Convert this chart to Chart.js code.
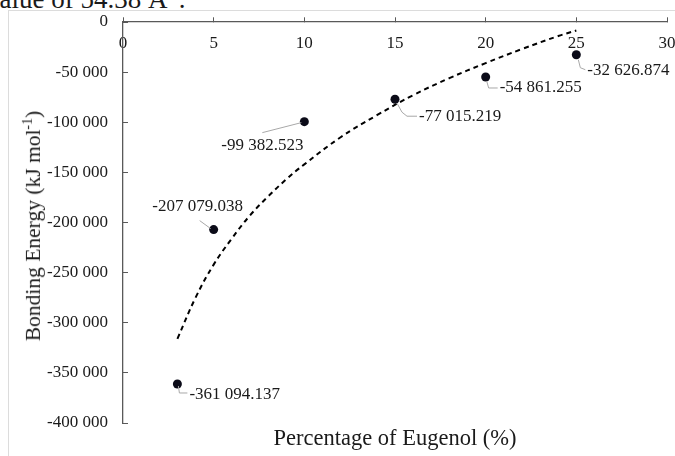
<!DOCTYPE html>
<html><head><meta charset="utf-8">
<script src="https://cdn.jsdelivr.net/npm/chart.js@4.4.1/dist/chart.umd.min.js"></script>
<style>
html,body{margin:0;padding:0;background:#fff;}
#wrap{position:relative;width:675px;height:456px;overflow:hidden;font-family:"Liberation Serif","Times New Roman",serif;color:#1a1a1a;}
#frame{position:absolute;left:8px;top:10px;width:700px;height:500px;border-left:1px solid #dcdcdc;border-top:1px solid #dcdcdc;}
#toptext{position:absolute;left:-14px;top:-22px;font-size:27px;white-space:nowrap;}
#ytitle{position:absolute;left:33px;top:226px;transform:translate(-50%,-50%) rotate(-90deg);font-size:21.5px;white-space:nowrap;}
#ytitle sup{font-size:14px;}
#xtitle{position:absolute;left:395px;top:438px;transform:translate(-50%,-50%);font-size:22.5px;white-space:nowrap;}
canvas{position:absolute;left:0;top:0;}
</style></head>
<body><div id="wrap">
<div id="frame"></div>
<div id="toptext">value of 54.38 Å<sup>2</sup>.</div>
<canvas id="c" width="675" height="456"></canvas>
<div id="ytitle">Bonding Energy (kJ mol<sup>-1</sup>)</div>
<div id="xtitle">Percentage of Eugenol (%)</div>
</div>
<script>
// ---- data ----
const eugenolPercent = [3, 5, 10, 15, 20, 25];
const bondingEnergy = [-361094.137, -207079.038, -99382.523, -77015.219, -54861.255, -32626.874];
const pointLabels = ["-361 094.137", "-207 079.038", "-99 382.523", "-77 015.219", "-54 861.255", "-32 626.874"];
// dashed trend curve
const trendX = [3, 4, 5, 6, 7, 8, 9, 10, 12, 14, 16, 18, 20, 22, 24, 25];
const trendY = [-316000, -275000, -242000, -216000, -193000, -174000, -157000, -142000, -115000, -93000, -73000, -56000, -41000, -27000, -14000, -8500];
const xTicks = [0, 5, 10, 15, 20, 25, 30];
const yTicks = [0, -50000, -100000, -150000, -200000, -250000, -300000, -350000, -400000];

const FONT = '"Liberation Serif", "Times New Roman", serif';
function groupSpace(v) {
  const s = Math.abs(Math.round(v)).toString().replace(/\B(?=(\d{3})+(?!\d))/g, ' ');
  return (v < 0 ? '-' : '') + s;
}
function noPad(s) { s.paddingTop = 0; s.paddingBottom = 0; s.paddingLeft = 0; s.paddingRight = 0; }

// label placement relative to each point: [dx, dy, align, leader path]
const labelPlacement = [
  [12, 11, 'left', [[1, 2], [2, 9], [10, 9]]],
  [-16, -23, 'center', [[-14, -9], [-3, -1]]],
  [-42, 24, 'center', [[-42, 11], [-3, 1]]],
  [24, 17, 'left', [[2, 4], [7, 13], [12, 17], [22, 17]]],
  [14, 11, 'left', [[1, 4], [3, 11], [12, 11]]],
  [11, 16, 'left', [[2, 5], [4, 13], [9, 15]]]
];

const labelPlugin = {
  id: 'pointLabels',
  afterDatasetsDraw(chart) {
    const meta = chart.getDatasetMeta(1);
    const ctx = chart.ctx;
    ctx.save();
    meta.data.forEach((el, i) => {
      const p = labelPlacement[i];
      const x = el.x, y = el.y;
      ctx.strokeStyle = '#a8a8a8';
      ctx.lineWidth = 1;
      ctx.beginPath();
      p[3].forEach((q, k) => { if (k === 0) ctx.moveTo(x + q[0], y + q[1]); else ctx.lineTo(x + q[0], y + q[1]); });
      ctx.stroke();
      ctx.fillStyle = '#1a1a1a';
      ctx.font = '17px ' + FONT;
      ctx.textAlign = p[2];
      ctx.textBaseline = 'middle';
      ctx.fillText(pointLabels[i], x + p[0], y + p[1]);
    });
    ctx.restore();
  }
};

new Chart(document.getElementById('c'), {
  data: {
    datasets: [
      {
        type: 'line',
        data: trendX.map((x, i) => ({ x: x, y: trendY[i] })),
        borderColor: '#000',
        borderWidth: 2,
        borderDash: [5, 4],
        pointRadius: 0,
        tension: 0.4,
        fill: false,
        order: 2
      },
      {
        type: 'scatter',
        data: eugenolPercent.map((x, i) => ({ x: x, y: bondingEnergy[i] })),
        backgroundColor: '#0b0b18',
        borderWidth: 0,
        pointRadius: 4.5,
        order: 1
      }
    ]
  },
  options: {
    responsive: false,
    animation: false,
    layout: { padding: { left: 0, top: 22, right: 8, bottom: 33 } },
    plugins: { legend: { display: false }, tooltip: { enabled: false } },
    scales: {
      x: {
        type: 'linear', min: 0, max: 30, position: { y: 0 },
        afterBuildTicks(s) { s.ticks = xTicks.map(v => ({ value: v })); },
        afterFit(s) { noPad(s); },
        ticks: { padding: 16, color: '#1a1a1a', font: { family: FONT, size: 17 } },
        grid: { drawOnChartArea: false, tickLength: -5, color: '#595959', lineWidth: 1 },
        border: { color: '#595959', width: 1.3 }
      },
      y: {
        type: 'linear', min: -400000, max: 0, position: 'left',
        afterBuildTicks(s) { s.ticks = yTicks.map(v => ({ value: v })); },
        afterFit(s) { s.width = 123; noPad(s); },
        ticks: { padding: 20, color: '#1a1a1a', font: { family: FONT, size: 17 }, callback: v => groupSpace(v) },
        grid: { drawOnChartArea: false, tickLength: -5, color: '#595959', lineWidth: 1 },
        border: { color: '#595959', width: 1.3 }
      }
    }
  },
  plugins: [labelPlugin]
});
</script>
</body></html>
